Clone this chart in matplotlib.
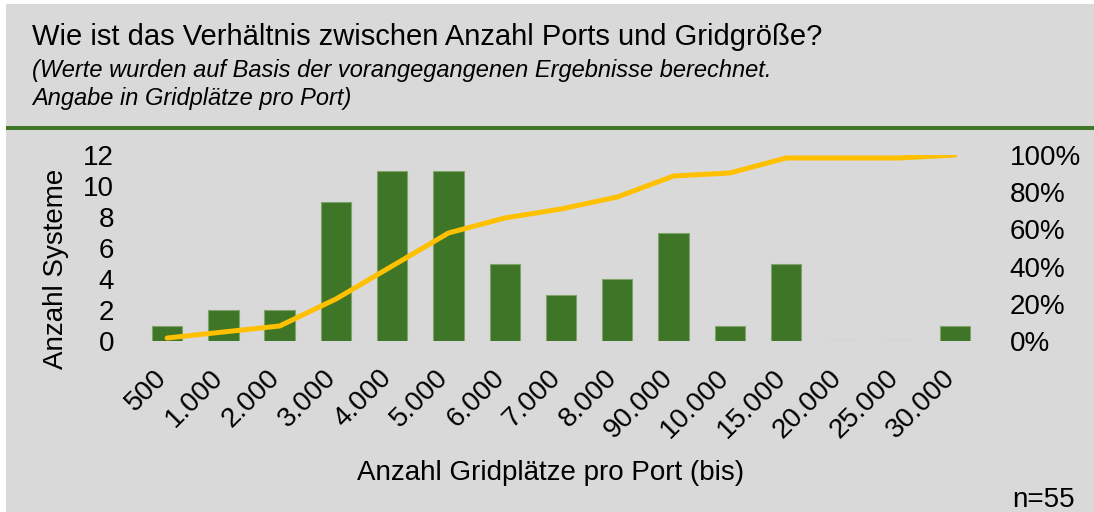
import numpy as np
import matplotlib.pyplot as plt
import matplotlib.transforms as mtransforms
from matplotlib.patches import Rectangle
from matplotlib.ticker import PercentFormatter

plt.rcParams['font.family'] = ['Liberation Sans', 'DejaVu Sans']

# Daten
categories = ['500', '1.000', '2.000', '3.000', '4.000', '5.000', '6.000', '7.000',
              '8.000', '90.000', '10.000', '15.000', '20.000', '25.000', '30.000']
systems = [1, 2, 2, 9, 11, 11, 5, 3, 4, 7, 1, 5, 0, 0, 1]

# kumulierter Anteil (Pareto-Linie)
cum_share = np.cumsum(systems) / np.sum(systems)

bg = '#d9d9d9'
green = '#3e7527'
yellow = '#ffc000'

fig = plt.figure(figsize=(10.94, 5.12), dpi=100, facecolor=bg)
W, H = 1094, 512

def fx(px):
    return px / W

def fy(py):
    return 1 - py / H

# weisser Rand oben/links und gruene Trennlinie
fig.patches.append(Rectangle((0, fy(4)), 1, 4 / H, transform=fig.transFigure,
                             facecolor='white', edgecolor='none'))
fig.patches.append(Rectangle((0, 0), fx(6), 1, transform=fig.transFigure,
                             facecolor='white', edgecolor='none'))
fig.patches.append(Rectangle((fx(6), fy(130)), 1 - fx(6), 4 / H, transform=fig.transFigure,
                             facecolor=green, edgecolor='none'))

fig.text(fx(32), fy(37), 'Wie ist das Verhältnis zwischen Anzahl Ports und Gridgröße?',
         fontsize=21, va='center', ha='left')
fig.text(fx(32), fy(71), '(Werte wurden auf Basis der vorangegangenen Ergebnisse berechnet.',
         fontsize=17, style='italic', va='center', ha='left')
fig.text(fx(32), fy(98), 'Angabe in Gridplätze pro Port)',
         fontsize=17, style='italic', va='center', ha='left')

ax = fig.add_axes([fx(139), fy(341), fx(983) - fx(139), (341 - 155) / H])
ax.set_facecolor('none')
x = np.arange(len(categories))
ax.bar(x, systems, width=0.54, color=green, edgecolor='#7fa36a', linewidth=0.8, zorder=2)
ax.set_xlim(-0.5, len(categories) - 0.5)
ax.set_ylim(0, 12)
ax.set_yticks(range(0, 13, 2))
ax.set_xticks(x)
ax.set_xticklabels(categories, rotation=45, ha='right', va='top', fontsize=20)
ax.tick_params(axis='both', length=0, labelsize=20)
ax.tick_params(axis='x', pad=17)
ax.tick_params(axis='y', pad=18)
shift = mtransforms.ScaledTranslation(5 / 100, 0, fig.dpi_scale_trans)
for lbl in ax.get_xticklabels():
    lbl.set_transform(lbl.get_transform() + shift)
for s in ax.spines.values():
    s.set_visible(False)
ax.set_ylabel('Anzahl Systeme', fontsize=20)
ax.yaxis.set_label_coords(-0.083, 0.39)
ax.set_xlabel('Anzahl Gridplätze pro Port (bis)', fontsize=20)
ax.xaxis.set_label_coords(0.488, -0.64)

ax2 = ax.twinx()
ax2.plot(x, cum_share, color=yellow, linewidth=3.6, solid_capstyle='round', zorder=3)
ax2.set_ylim(0, 1.0)
ax2.set_yticks(np.arange(0, 1.01, 0.2))
ax2.yaxis.set_major_formatter(PercentFormatter(1.0, decimals=0))
ax2.tick_params(axis='y', length=0, labelsize=20, pad=19)
for s in ax2.spines.values():
    s.set_visible(False)

fig.text(fx(1075), fy(500), 'n=55', fontsize=20, ha='right', va='center')

fig.savefig('out.png', dpi=100, facecolor=fig.get_facecolor())
